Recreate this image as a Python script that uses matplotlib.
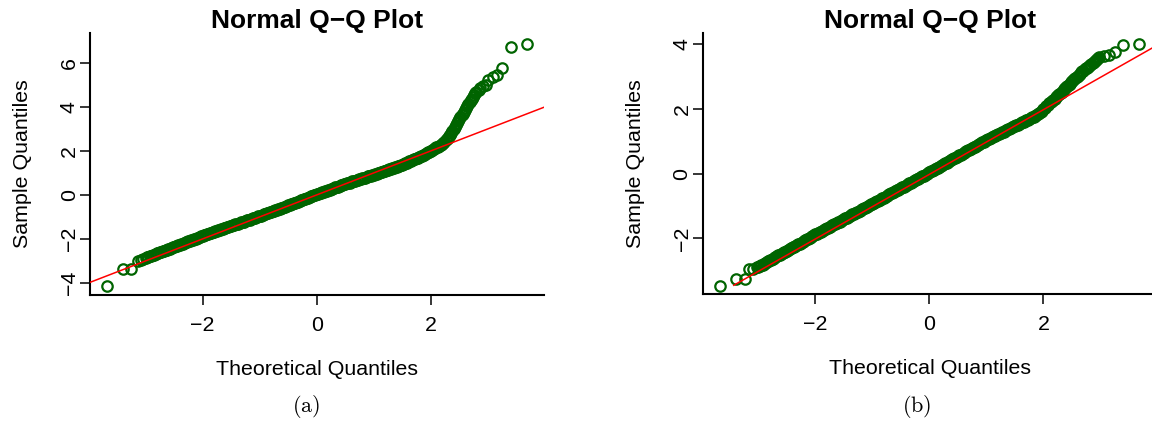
import matplotlib
matplotlib.use("Agg")
import matplotlib.pyplot as plt

plt.rcParams['font.family'] = ['Liberation Sans', 'DejaVu Sans']
plt.rcParams['mathtext.fontset'] = 'cm'

# theoretical quantiles for the dense middle part (shared by both panels)
grid_x = [
    -3.000, -2.975, -2.950, -2.925, -2.900, -2.875, -2.850, -2.825, -2.800, -2.775,
    -2.750, -2.725, -2.700, -2.675, -2.650, -2.625, -2.600, -2.575, -2.550, -2.525,
    -2.500, -2.475, -2.450, -2.425, -2.400, -2.375, -2.350, -2.325, -2.300, -2.275,
    -2.250, -2.225, -2.200, -2.175, -2.150, -2.125, -2.100, -2.075, -2.050, -2.025,
    -2.000, -1.975, -1.950, -1.925, -1.900, -1.875, -1.850, -1.825, -1.800, -1.775,
    -1.750, -1.725, -1.700, -1.675, -1.650, -1.625, -1.600, -1.575, -1.550, -1.525,
    -1.500, -1.475, -1.450, -1.425, -1.400, -1.375, -1.350, -1.325, -1.300, -1.275,
    -1.250, -1.225, -1.200, -1.175, -1.150, -1.125, -1.100, -1.075, -1.050, -1.025,
    -1.000, -0.975, -0.950, -0.925, -0.900, -0.875, -0.850, -0.825, -0.800, -0.775,
    -0.750, -0.725, -0.700, -0.675, -0.650, -0.625, -0.600, -0.575, -0.550, -0.525,
    -0.500, -0.475, -0.450, -0.425, -0.400, -0.375, -0.350, -0.325, -0.300, -0.275,
    -0.250, -0.225, -0.200, -0.175, -0.150, -0.125, -0.100, -0.075, -0.050, -0.025,
    0.000, 0.025, 0.050, 0.075, 0.100, 0.125, 0.150, 0.175, 0.200, 0.225,
    0.250, 0.275, 0.300, 0.325, 0.350, 0.375, 0.400, 0.425, 0.450, 0.475,
    0.500, 0.525, 0.550, 0.575, 0.600, 0.625, 0.650, 0.675, 0.700, 0.725,
    0.750, 0.775, 0.800, 0.825, 0.850, 0.875, 0.900, 0.925, 0.950, 0.975,
    1.000, 1.025, 1.050, 1.075, 1.100, 1.125, 1.150, 1.175, 1.200, 1.225,
    1.250, 1.275, 1.300, 1.325, 1.350, 1.375, 1.400, 1.425, 1.450, 1.475,
    1.500, 1.525, 1.550, 1.575, 1.600, 1.625, 1.650, 1.675, 1.700, 1.725,
    1.750, 1.775, 1.800, 1.825, 1.850, 1.875, 1.900, 1.925, 1.950, 1.975,
    2.000, 2.025, 2.050, 2.075, 2.100, 2.125, 2.150, 2.175, 2.200]

# Panel (a): sample quantiles, heavy right tail
body_a = [
    -2.86, -2.84, -2.81, -2.79, -2.76, -2.74, -2.71, -2.69, -2.66, -2.64,
    -2.61, -2.59, -2.56, -2.54, -2.51, -2.49, -2.46, -2.44, -2.41, -2.39,
    -2.36, -2.34, -2.31, -2.29, -2.26, -2.24, -2.21, -2.19, -2.16, -2.14,
    -2.11, -2.09, -2.06, -2.04, -2.01, -1.99, -1.96, -1.94, -1.91, -1.89,
    -1.86, -1.84, -1.82, -1.79, -1.77, -1.75, -1.73, -1.70, -1.68, -1.66,
    -1.64, -1.61, -1.59, -1.57, -1.55, -1.52, -1.50, -1.48, -1.46, -1.43,
    -1.41, -1.39, -1.37, -1.34, -1.32, -1.30, -1.28, -1.25, -1.23, -1.21,
    -1.19, -1.16, -1.14, -1.12, -1.10, -1.07, -1.05, -1.03, -1.01, -0.98,
    -0.96, -0.94, -0.91, -0.89, -0.86, -0.84, -0.82, -0.79, -0.77, -0.74,
    -0.72, -0.70, -0.67, -0.65, -0.62, -0.60, -0.58, -0.55, -0.53, -0.50,
    -0.48, -0.45, -0.43, -0.40, -0.38, -0.35, -0.33, -0.30, -0.28, -0.25,
    -0.22, -0.20, -0.17, -0.15, -0.12, -0.10, -0.07, -0.05, -0.02, 0.00,
    0.03, 0.05, 0.08, 0.10, 0.12, 0.15, 0.17, 0.20, 0.22, 0.24,
    0.27, 0.29, 0.31, 0.34, 0.36, 0.38, 0.41, 0.43, 0.45, 0.48,
    0.50, 0.52, 0.54, 0.56, 0.58, 0.61, 0.63, 0.65, 0.67, 0.69,
    0.71, 0.73, 0.75, 0.77, 0.79, 0.82, 0.84, 0.86, 0.88, 0.90,
    0.92, 0.94, 0.97, 0.99, 1.01, 1.03, 1.06, 1.08, 1.10, 1.12,
    1.15, 1.17, 1.19, 1.21, 1.24, 1.26, 1.28, 1.31, 1.33, 1.36,
    1.38, 1.41, 1.44, 1.47, 1.49, 1.52, 1.55, 1.58, 1.61, 1.64,
    1.66, 1.69, 1.72, 1.76, 1.79, 1.83, 1.86, 1.90, 1.93, 1.97,
    2.00, 2.04, 2.08, 2.12, 2.16, 2.20, 2.24, 2.28, 2.32]

tail_lo_a_x = [-3.67, -3.40, -3.25, -3.14, -3.08, -3.04]
tail_lo_a_y = [-4.12, -3.36, -3.36, -2.99, -2.96, -2.92]
tail_hi_a_x = [2.22, 2.24, 2.26, 2.28, 2.30, 2.32, 2.34, 2.36, 2.38, 2.40,
               2.42, 2.44, 2.46, 2.48, 2.50, 2.52, 2.54, 2.56, 2.58, 2.60,
               2.62, 2.64, 2.66, 2.68, 2.70, 2.72, 2.74, 2.76, 2.78, 2.80,
               2.84, 2.87, 2.91, 2.96, 3.01, 3.09, 3.16, 3.25, 3.41, 3.69]
tail_hi_a_y = [2.37, 2.42, 2.48, 2.54, 2.60, 2.67, 2.74, 2.82, 2.90, 2.99,
               3.07, 3.16, 3.25, 3.35, 3.45, 3.54, 3.62, 3.70, 3.78, 3.87,
               3.96, 4.06, 4.14, 4.22, 4.30, 4.38, 4.46, 4.54, 4.62, 4.68,
               4.78, 4.85, 4.93, 5.00, 5.23, 5.38, 5.45, 5.79, 6.71, 6.86]

# Panel (b): sample quantiles, close to normal
body_b = [
    -2.88, -2.86, -2.83, -2.81, -2.78, -2.76, -2.73, -2.71, -2.68, -2.66,
    -2.63, -2.61, -2.58, -2.56, -2.53, -2.51, -2.48, -2.46, -2.43, -2.41,
    -2.38, -2.36, -2.33, -2.31, -2.28, -2.26, -2.23, -2.21, -2.18, -2.16,
    -2.13, -2.11, -2.08, -2.06, -2.03, -2.01, -1.98, -1.96, -1.93, -1.91,
    -1.88, -1.86, -1.83, -1.81, -1.79, -1.76, -1.74, -1.71, -1.69, -1.67,
    -1.64, -1.62, -1.60, -1.57, -1.55, -1.52, -1.50, -1.48, -1.45, -1.43,
    -1.41, -1.38, -1.36, -1.33, -1.31, -1.29, -1.26, -1.24, -1.22, -1.19,
    -1.17, -1.14, -1.12, -1.10, -1.07, -1.05, -1.03, -1.00, -0.98, -0.95,
    -0.93, -0.91, -0.88, -0.86, -0.83, -0.81, -0.78, -0.76, -0.74, -0.71,
    -0.69, -0.66, -0.64, -0.61, -0.59, -0.57, -0.54, -0.52, -0.49, -0.47,
    -0.45, -0.42, -0.40, -0.37, -0.35, -0.32, -0.30, -0.28, -0.25, -0.23,
    -0.20, -0.18, -0.15, -0.13, -0.11, -0.08, -0.06, -0.03, -0.01, 0.02,
    0.04, 0.07, 0.09, 0.12, 0.14, 0.17, 0.19, 0.22, 0.24, 0.27,
    0.29, 0.32, 0.34, 0.37, 0.39, 0.42, 0.44, 0.47, 0.49, 0.52,
    0.54, 0.57, 0.59, 0.62, 0.64, 0.67, 0.69, 0.72, 0.74, 0.77,
    0.79, 0.82, 0.84, 0.87, 0.89, 0.92, 0.94, 0.97, 0.99, 1.02,
    1.04, 1.06, 1.08, 1.11, 1.13, 1.15, 1.17, 1.19, 1.22, 1.24,
    1.26, 1.28, 1.30, 1.33, 1.35, 1.37, 1.39, 1.41, 1.44, 1.46,
    1.48, 1.50, 1.52, 1.54, 1.56, 1.59, 1.61, 1.63, 1.65, 1.67,
    1.69, 1.71, 1.74, 1.76, 1.78, 1.81, 1.83, 1.87, 1.91, 1.95,
    1.99, 2.04, 2.08, 2.13, 2.17, 2.21, 2.25, 2.29, 2.32]

tail_lo_b_x = [-3.68, -3.39, -3.24, -3.16, -3.09, -3.03]
tail_lo_b_y = [-3.47, -3.26, -3.26, -2.95, -2.95, -2.90]
tail_hi_b_x = [2.22, 2.24, 2.26, 2.28, 2.30, 2.32, 2.34, 2.36, 2.38, 2.40,
               2.42, 2.44, 2.46, 2.48, 2.50, 2.52, 2.54, 2.56, 2.58, 2.60,
               2.62, 2.64, 2.66, 2.68, 2.70, 2.72, 2.74, 2.76, 2.78, 2.80,
               2.82, 2.84, 2.86, 2.88, 2.90, 2.92, 2.94, 2.96, 2.98, 3.06,
               3.14, 3.26, 3.40, 3.68]
tail_hi_b_y = [2.36, 2.40, 2.44, 2.47, 2.51, 2.54, 2.57, 2.61, 2.64, 2.67,
               2.71, 2.75, 2.78, 2.82, 2.86, 2.89, 2.93, 2.96, 2.99, 3.03,
               3.06, 3.09, 3.13, 3.16, 3.19, 3.23, 3.26, 3.28, 3.31, 3.34,
               3.36, 3.39, 3.42, 3.45, 3.48, 3.51, 3.54, 3.58, 3.62, 3.64,
               3.67, 3.75, 3.99, 4.02]

# reference lines: intercept, slope, first x
line_a = (0.0, 1.0, -4.0)
line_b = (-0.02, 1.0, -3.43)

yticks_a = [-4, -2, 0, 2, 4, 6]
yticks_b = [-2, 0, 2, 4]
xticks = [-2, 0, 2]

green = '#006400'


def qq_panel(ax, theo, samp, line, yticks, ylim):
    ax.plot(theo, samp, 'o', mfc='none', mec=green, ms=7.5, mew=1.6, zorder=2)
    a, b, x0 = line
    x1 = 4.2
    ax.plot([x0, x1], [a + b * x0, a + b * x1], color='red', lw=1.1, zorder=3)
    ax.set_xlim(-3.975, 3.985)
    ax.set_ylim(*ylim)
    ax.set_xticks(xticks)
    ax.set_yticks(yticks)
    for s in ['top', 'right']:
        ax.spines[s].set_visible(False)
    for s in ['left', 'bottom']:
        ax.spines[s].set_linewidth(1.5)
    ax.tick_params(length=7, width=1.1, labelsize=15.4, pad=8)
    ax.tick_params(axis='y', labelrotation=90, pad=1)
    for lab in ax.get_yticklabels():
        lab.set_va('center')
    ax.set_title('Normal Q\u2212Q Plot', fontsize=19, fontweight='bold', pad=0)
    ax.set_xlabel('Theoretical Quantiles', fontsize=15.4, labelpad=18)
    ax.set_ylabel('Sample Quantiles', fontsize=15.4, labelpad=20)


fig = plt.figure(figsize=(11.52, 4.21), dpi=100)
ax1 = fig.add_axes([90 / 1152, 126 / 421, 454 / 1152, 262 / 421])
ax2 = fig.add_axes([702.7 / 1152, 126.7 / 421, 454 / 1152, 261.3 / 421])

qq_panel(ax1, tail_lo_a_x + grid_x + tail_hi_a_x, tail_lo_a_y + body_a + tail_hi_a_y,
         line_a, yticks_a, (-4.55, 7.36))
qq_panel(ax2, tail_lo_b_x + grid_x + tail_hi_b_x, tail_lo_b_y + body_b + tail_hi_b_y,
         line_b, yticks_b, (-3.73, 4.35))

fig.text(306 / 1152, 1 - 407 / 421, r'$\mathrm{(a)}$', ha='center', va='center', fontsize=16)
fig.text(917 / 1152, 1 - 407 / 421, r'$\mathrm{(b)}$', ha='center', va='center', fontsize=16)

fig.savefig('out.png', dpi=100)
